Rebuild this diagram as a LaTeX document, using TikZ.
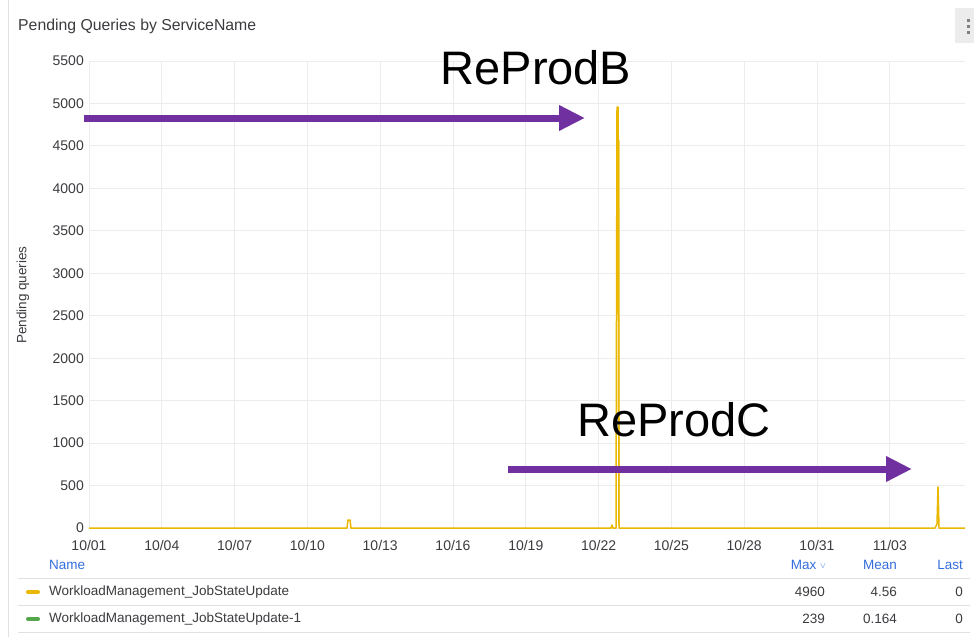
\documentclass[tikz,border=0pt]{standalone}
\usepackage{fontspec}
\setmainfont{Liberation Sans}
\usetikzlibrary{arrows.meta}
\definecolor{gridc}{RGB}{236,236,236}
\definecolor{txt}{RGB}{60,60,64}
\definecolor{serY}{RGB}{234,184,0}
\definecolor{serG}{RGB}{86,166,75}
\definecolor{purp}{RGB}{112,48,160}
\definecolor{linkb}{RGB}{52,110,220}
\definecolor{sepc}{RGB}{225,225,225}
\definecolor{menub}{RGB}{236,236,236}
\begin{document}
\begin{tikzpicture}[x=1pt,y=-1pt,
  tick/.style={font=\fontsize{14}{14}\selectfont, text=txt, inner sep=0pt},
  ylab/.style={tick, anchor=east},
  xlab/.style={tick, anchor=center},
  grid/.style={draw=gridc, line width=1pt},
  bigarrow/.style={draw=purp, line width=7pt, -{Triangle[length=26pt,width=24pt]}},
  bigtext/.style={font=\fontsize{47}{47}\selectfont, inner sep=0pt},
  legtxt/.style={font=\fontsize{13.5}{13.5}\selectfont, text=txt, inner sep=0pt, anchor=west},
  numtxt/.style={font=\fontsize{13.5}{13.5}\selectfont, text=txt, inner sep=0pt, anchor=east},
  hdr/.style={font=\fontsize{13.5}{13.5}\selectfont, text=linkb, inner sep=0pt},
  sep/.style={draw=sepc, line width=1pt}]
\useasboundingbox (0,0) rectangle (974,637);
\fill[white] (0,0) rectangle (974,637);
% panel left border
\draw[sepc, line width=1pt] (8,0) -- (8,637);
% title
\node[font=\fontsize{15.8}{15.8}\selectfont, text=txt, anchor=west, inner sep=0pt] (title) at (18,26) {Pending Queries by ServiceName};
% menu
\fill[menub] (955,8) rectangle (974,43);
\foreach \yy in {19,25,31} \fill[gray] (967,\yy) rectangle (970,\yy+3);
% horizontal grid and y labels
\foreach \v [count=\i from 0] in {0,500,1000,1500,2000,2500,3000,3500,4000,4500,5000,5500} {
  \pgfmathsetmacro{\yy}{528-\i*42.45}
  \draw[grid] (89,\yy) -- (965,\yy);
  \node[ylab] (yl\i) at (84,\yy) {\v};
}
% vertical grid and x labels
\foreach \d [count=\i from 0] in {10/01,10/04,10/07,10/10,10/13,10/16,10/19,10/22,10/25,10/28,10/31,11/03} {
  \pgfmathsetmacro{\xx}{89+\i*72.8}
  \draw[grid] (\xx,61) -- (\xx,528);
  \node[xlab] (xl\i) at (\xx,545) {\d};
}
% y axis title
\node[tick, font=\fontsize{13.5}{13.5}\selectfont, rotate=90] (ytitle) at (23,295) {Pending queries};
% series
\draw[serY!60, line width=1.2pt] (619.5,528) -- (619.5,140);
\draw[serY, line width=1.5pt, line join=round]
  (89,528) -- (347,528) -- (348,520) -- (350,520) -- (351,528) -- (611,528) -- (612,525) -- (613,528)
  -- (616,528) -- (617,107) -- (618,107) -- (619,528) -- (935,528) -- (937,524) -- (938,487) -- (939,528) -- (965,528);
% annotations
\node[bigtext] (rb) at (536,68) {ReProdB};
\node[bigtext] (rc) at (674,420) {ReProdC};
\coordinate (a1s) at (84,118);
\coordinate (a1e) at (585,118);
\coordinate (a2s) at (508,469);
\coordinate (a2e) at (912,469);
\draw[bigarrow] (a1s) -- (a1e);
\draw[bigarrow] (a2s) -- (a2e);
% legend
\node[hdr, anchor=west] (hname) at (49,565) {Name};
\node[hdr, anchor=east] (hmax) at (826,565) {Max \raisebox{1pt}{\fontsize{8}{8}\selectfont$\vee$}};
\node[hdr, anchor=east] (hmean) at (897,565) {Mean};
\node[hdr, anchor=east] (hlast) at (963,565) {Last};
\draw[sep] (18,578) -- (970,578);
\draw[sep] (18,605) -- (970,605);
\draw[sep] (18,632) -- (970,632);
\draw[serY, line width=4pt, line cap=round] (28,592) -- (38,592);
\draw[serG, line width=4pt, line cap=round] (28,619) -- (38,619);
\node[legtxt] (l1) at (49,592) {WorkloadManagement\_JobStateUpdate};
\node[legtxt] (l2) at (49,619) {WorkloadManagement\_JobStateUpdate-1};
\node[numtxt] (m1) at (825,592) {4960};
\node[numtxt] (n1) at (897,592) {4.56};
\node[numtxt] (t1) at (963,592) {0};
\node[numtxt] (m2) at (825,619) {239};
\node[numtxt] (n2) at (897,619) {0.164};
\node[numtxt] (t2) at (963,619) {0};
\end{tikzpicture}
\end{document}
